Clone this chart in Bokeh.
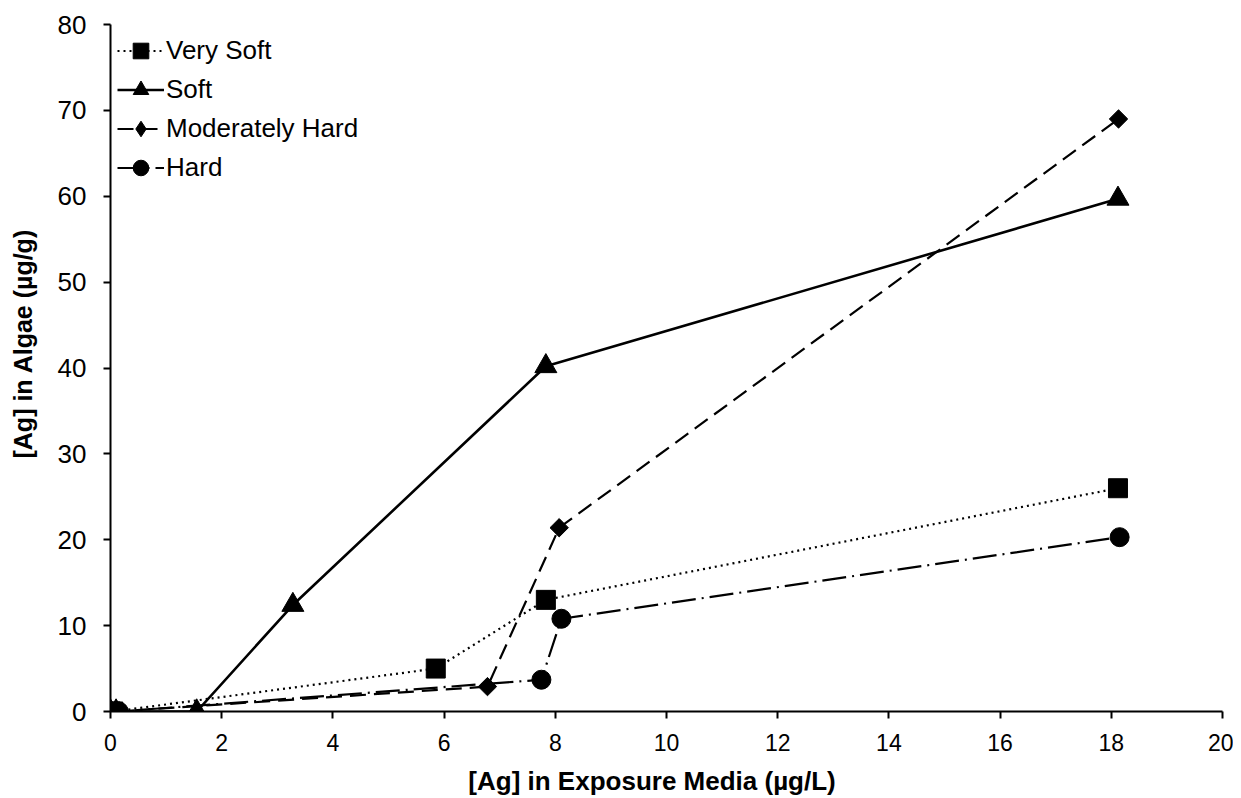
import math
from bokeh.plotting import figure
from bokeh.models import Range1d, FixedTicker, Legend
from bokeh.embed import file_html
from bokeh.resources import INLINE

# Data
vs_x = [0.0, 0.05, 5.85, 7.83, 18.12]
vs_y = [0.0, 0.0, 5.0, 13.0, 26.0]

soft_x = [0.0, 0.1, 1.55, 3.28, 7.83, 18.12]
soft_y = [0.0, 0.0, 0.0, 12.4, 40.2, 59.7]

mh_x = [0.0, 0.1, 6.78, 8.07, 18.13]
mh_y = [0.0, 0.0, 2.9, 21.4, 69.0]

hard_x = [0.0, 0.15, 7.75, 8.11, 18.15]
hard_y = [0.0, 0.0, 3.7, 10.8, 20.3]

x_ticks = [0, 2, 4, 6, 8, 10, 12, 14, 16, 18, 20]
y_ticks = [0, 10, 20, 30, 40, 50, 60, 70, 80]

FONT = "Liberation Sans"
NB = "\u00a0"

p = figure(width=1233, height=798, output_backend="svg", toolbar_location=None,
           x_range=Range1d(0, 20), y_range=Range1d(0, 80),
           min_border_left=110, min_border_right=11, min_border_top=24, min_border_bottom=87)
p.outline_line_color = None
p.xgrid.visible = False
p.ygrid.visible = False

lw = 2.2
r1 = p.line(vs_x, vs_y, line_color="black", line_width=lw, line_dash="2 4")
s1 = p.scatter(vs_x, vs_y, marker="square", size=19, color="black")
r2 = p.line(soft_x, soft_y, line_color="black", line_width=2.6)
s2 = p.scatter(soft_x, soft_y, marker="triangle", size=22, color="black")
r3 = p.line(mh_x, mh_y, line_color="black", line_width=lw, line_dash="16 8")
s3 = p.scatter(x=mh_x, y=mh_y, angle=math.pi / 4, marker="square", size=13, color="black")
# legend-only proxy so the legend shows a diamond (legend markers are never rotated)
s3_leg = p.scatter(x=[float("nan")], y=[float("nan")], marker="diamond", size=13, color="black")
r4 = p.line(hard_x, hard_y, line_color="black", line_width=lw, line_dash="24 6 2 6")
s4 = p.scatter(hard_x, hard_y, marker="circle", size=19, color="black")

legend = Legend(items=[
    ("Very Soft", [r1, s1]),
    ("Soft", [r2, s2]),
    ("Moderately Hard", [r3, s3_leg]),
    ("Hard", [r4, s4]),
], location="top_left")
legend.border_line_color = None
legend.background_fill_alpha = 0
legend.label_text_font = FONT
legend.label_text_font_size = "26px"
legend.label_text_color = "black"
legend.label_standoff = 2
legend.glyph_width = 47
legend.glyph_height = 39
legend.spacing = 0
legend.margin = 7
legend.padding = 8
p.add_layout(legend)

for ax in (p.xaxis[0], p.yaxis[0]):
    ax.axis_line_color = "black"
    ax.axis_line_width = 2
    ax.major_tick_line_color = "black"
    ax.major_tick_line_width = 2
    ax.major_tick_in = 0
    ax.major_tick_out = 7
    ax.minor_tick_line_color = None
    ax.major_label_text_font = FONT
    ax.major_label_text_color = "black"
    ax.axis_label_text_font = FONT
    ax.axis_label_text_font_style = "bold"
    ax.axis_label_text_color = "black"

p.xaxis.major_label_text_font_size = "23px"
p.yaxis.major_label_text_font_size = "26px"
p.xaxis.axis_label_text_font_size = "26px"
p.yaxis.axis_label_text_font_size = "25px"
p.xaxis.ticker = FixedTicker(ticks=x_ticks)
p.yaxis.ticker = FixedTicker(ticks=y_ticks)
p.xaxis.major_label_standoff = 15
p.yaxis.major_label_standoff = 17
# titles sit off-centre in the reference; non-breaking spaces shift them
p.xaxis.axis_label = "[Ag] in Exposure Media (µg/L)" + NB * 4
p.yaxis.axis_label = NB * 7 + "[Ag] in Algae (µg/g)"
p.xaxis.axis_label_standoff = 12
p.yaxis.axis_label_standoff = 18

open("out.html", "w").write(file_html(p, INLINE))
